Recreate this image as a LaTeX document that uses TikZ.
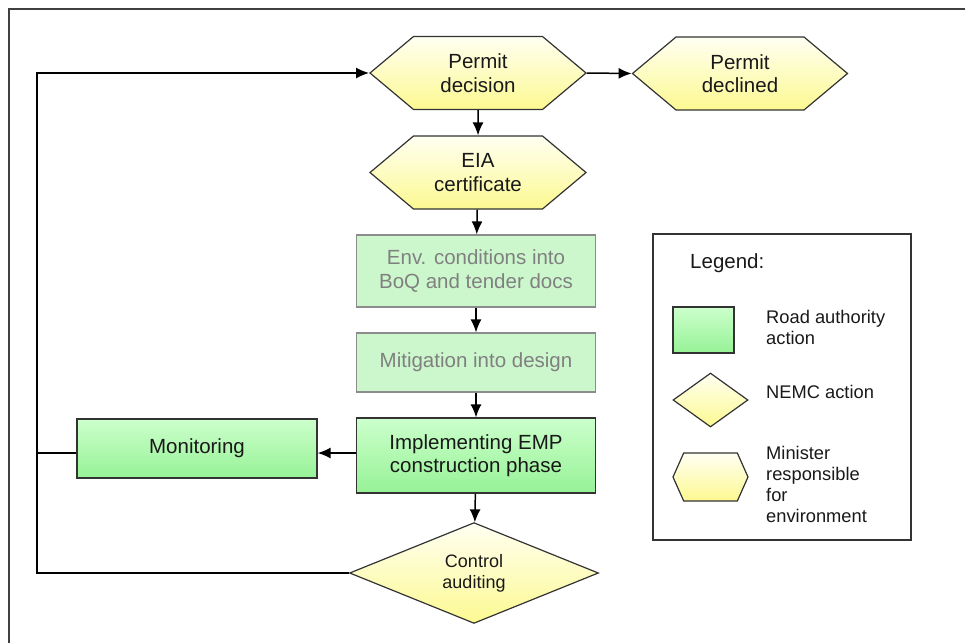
\documentclass[tikz,border=0pt]{standalone}
\usepackage{fontspec}
\setmainfont{Liberation Sans}
\usetikzlibrary{shapes.geometric, shapes.symbols, arrows.meta}

\definecolor{greentop}{HTML}{CCFFCC}
\definecolor{greenbot}{HTML}{96F296}
\definecolor{yellowtop}{HTML}{FFFFF2}
\definecolor{yellowbot}{HTML}{FCF991}
\definecolor{palegreen}{HTML}{CCF7CC}

\begin{document}
\begin{tikzpicture}[x=1pt, y=-1pt,
    txt/.style={font=\fontsize{20.5}{23.5}\selectfont, align=center, text=black!90},
    smalltxt/.style={font=\fontsize{18.3}{21}\selectfont, align=left, text=black!90},
    flow/.style={-{Latex[length=13pt, width=11pt]}, line width=1.5pt},
    link/.style={line width=1.5pt},
    minister/.style={signal, signal to=west and east, signal pointer angle=80,
      draw=black!80, line width=1.2pt, top color=yellowtop, bottom color=yellowbot,
      inner sep=0pt, minimum width=216pt, minimum height=73pt, txt},
    nemc/.style={diamond, draw=black!80, line width=1.2pt, top color=yellowtop,
      bottom color=yellowbot, inner sep=0pt},
    road/.style={rectangle, draw=black!80, line width=1.2pt, top color=greentop,
      bottom color=greenbot, inner sep=0pt, txt},
    roadpale/.style={rectangle, draw=black!45, line width=1.2pt, fill=palegreen,
      inner sep=0pt, txt, text=black!50}]
  \useasboundingbox (0, 0) rectangle (965, 643);

  % Page frame
  \draw[line width=1.2pt, black!75] (9, 643) -- (9, 9) -- (965, 9);

  % Flow nodes
  \node[minister] (decision) at (478, 73) {Permit\\decision};
  \node[minister, minimum width=215pt] (declined) at (740, 73.5) {Permit\\declined};
  \node[minister] (eia) at (478, 172.5) {EIA\\certificate};
  \node[roadpale, minimum width=239pt, minimum height=72pt] (env) at (476, 271)
    {Env. conditions into\\BoQ and tender docs};
  \node[roadpale, minimum width=239pt, minimum height=59pt] (mitig) at (476, 362.5)
    {Mitigation into design};
  \node[road, minimum width=239pt, minimum height=75pt] (impl) at (476, 455.5)
    {Implementing EMP\\construction phase};
  \node[road, minimum width=240pt, minimum height=59pt] (mon) at (197, 448.5)
    {Monitoring};
  \node[nemc, minimum width=249pt, minimum height=100pt, txt,
    font=\fontsize{18}{21}\selectfont] (audit) at (474, 573) {Control\\auditing};

  % Connectors
  \coordinate (back) at (37, 0);
  \draw[flow] (decision.east) -- (declined.west);
  \draw[flow] (decision) -- (eia);
  \draw[flow] (eia) -- (env);
  \draw[flow] (env) -- (mitig);
  \draw[flow] (mitig) -- (impl);
  \draw[flow] (impl) -- (audit);
  \draw[flow] (impl.west |- 0, 453) -- (mon.east |- 0, 453);
  \draw[link] (mon.west |- 0, 453) -- (back |- 0, 453);
  \draw[flow] (audit.west) -- (audit.west -| back) -- (decision.west -| back)
    -- (decision.west);

  % Legend
  \node[draw=black!80, line width=1.2pt, minimum width=258pt, minimum height=306pt]
    (legend) at (782, 387) {};
  \node[anchor=west, inner sep=0pt, txt] (legendtitle) at (690, 263) {Legend:};
  \node[road, minimum width=61pt, minimum height=46pt] (keyroad) at (703.5, 330) {};
  \node[anchor=west, inner sep=0pt, smalltxt] (keyroadtxt) at (766, 327)
    {Road authority\\action};
  \node[nemc, minimum width=75pt, minimum height=54pt] (keynemc) at (710.5, 400) {};
  \node[anchor=west, inner sep=0pt, smalltxt] (keynemctxt) at (766, 392)
    {NEMC action};
  \node[minister, signal pointer angle=132, minimum width=75pt, minimum height=48pt]
    (keyminister) at (710.5, 477) {};
  \node[anchor=west, inner sep=0pt, smalltxt] (keyministertxt) at (766, 484)
    {Minister\\responsible\\for\\environment};
\end{tikzpicture}
\end{document}
